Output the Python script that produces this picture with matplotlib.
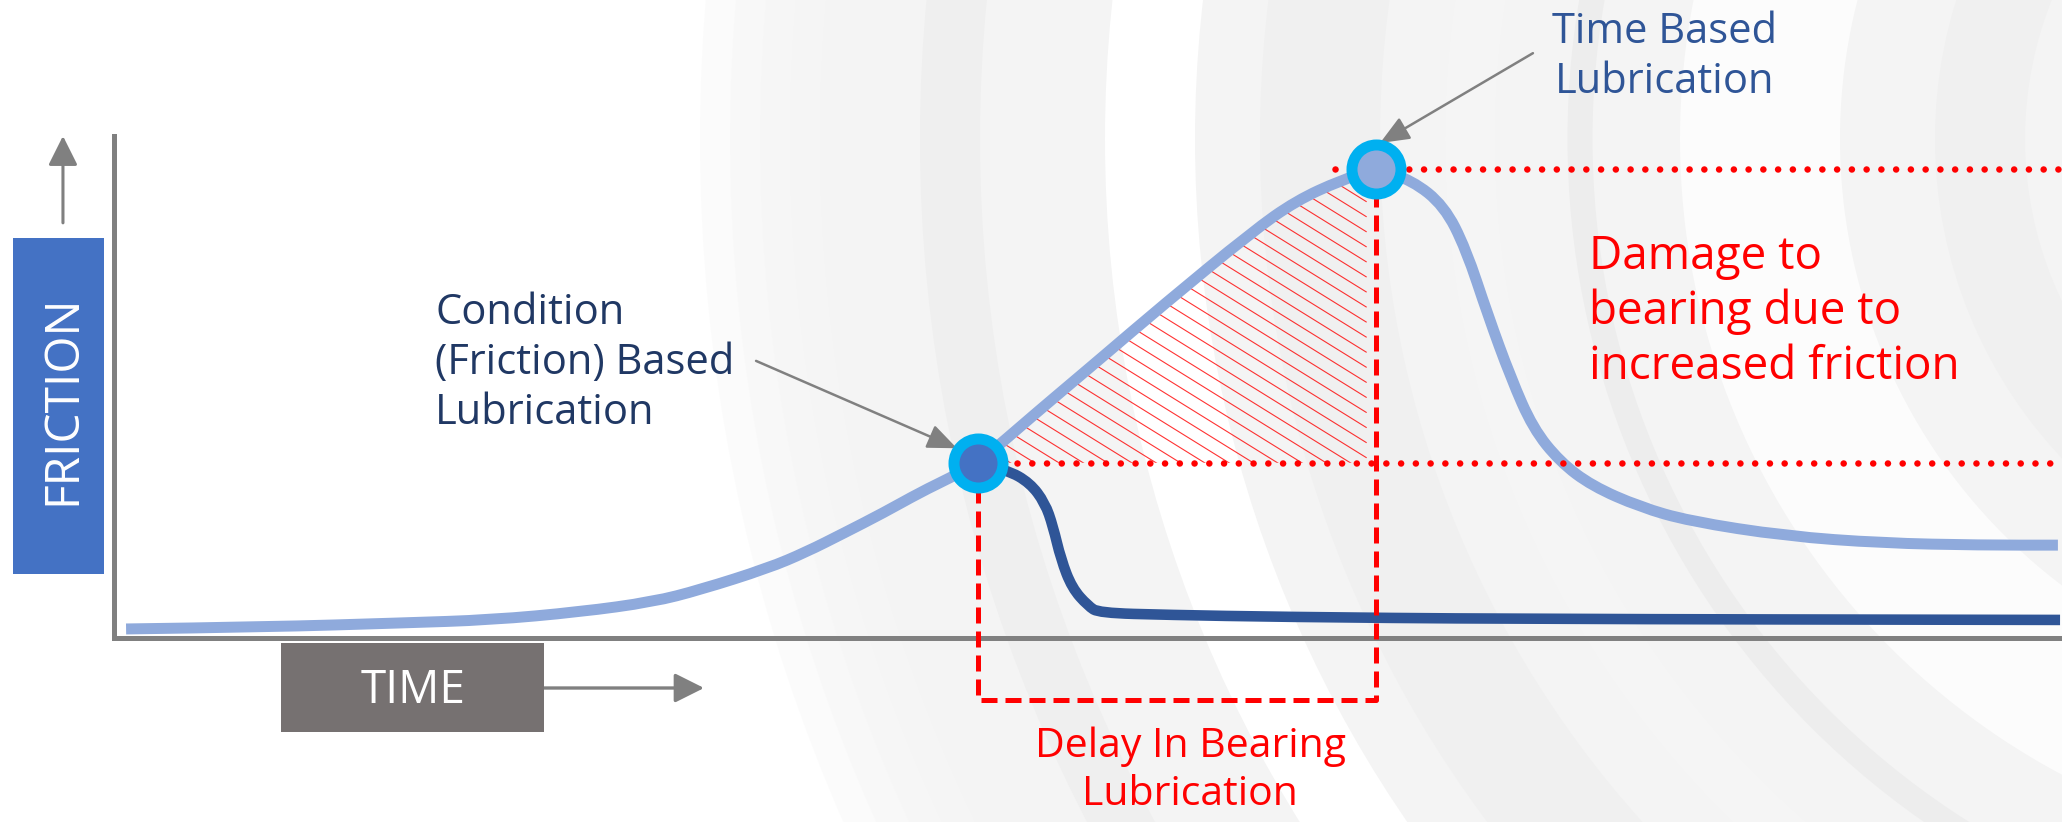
import numpy as np
import matplotlib.pyplot as plt
from matplotlib.path import Path
from matplotlib.patches import PathPatch, Polygon, Rectangle, Circle

plt.rcParams['font.family'] = ['Open Sans', 'DejaVu Sans']

# friction over time when the bearing is greased on a fixed schedule
sched_t = [0.062, 0.791, 1.478, 1.935, 2.392, 2.767, 3.008, 3.357, 3.552, 3.747,
           3.948, 4.143, 4.292, 4.435, 4.584, 4.733, 4.928, 5.062, 5.385, 5.842,
           6.068, 6.299, 6.478, 6.663, 6.828, 6.940, 7.053, 7.171, 7.284, 7.423,
           7.587, 7.834, 8.085, 8.583, 9.081, 9.579, 9.979]
sched_f = [0.18, 0.22, 0.30, 0.36, 0.52, 0.72, 0.96, 1.39, 1.71, 2.09,
           2.49, 2.91, 3.19, 3.49, 3.98, 4.48, 5.12, 5.56, 6.63, 8.09,
           8.71, 9.12, 9.34, 9.12, 8.61, 7.75, 6.43, 5.18, 4.18, 3.51,
           3.03, 2.61, 2.33, 2.03, 1.89, 1.85, 1.85]

# friction when grease is added as soon as friction starts to climb
cond_t = [4.435, 4.584, 4.702, 4.779, 4.820, 4.861, 4.918, 5.000, 5.056, 5.411,
          6.001, 7.115, 9.99]
cond_f = [3.49, 3.35, 3.09, 2.69, 2.23, 1.57, 0.996, 0.64, 0.50, 0.46,
          0.42, 0.38, 0.36]

cond_idx = 13                       # point where condition based lubrication kicks in
peak_idx = int(np.argmax(sched_f))  # point where the scheduled lubrication happens

label_time_based = "Time Based\nLubrication"
label_condition = "Condition\n(Friction) Based\nLubrication"
label_damage = "Damage to\nbearing due to\nincreased friction"
label_delay = "Delay In Bearing\nLubrication"
label_y = "FRICTION"
label_x = "TIME"

LIGHT = '#8FAADC'
DARK = '#2F5597'
CYAN = '#00B0F0'
RED = '#FF0000'
GREY = '#808080'


def smooth(x, y):
    # quadratic bezier through the midpoints, keeps the curve soft
    p = np.column_stack([x, y])
    verts, codes = [p[0]], [Path.MOVETO]
    for i in range(1, len(p) - 1):
        verts += [p[i], (p[i] + p[i + 1]) / 2]
        codes += [Path.CURVE3, Path.CURVE3]
    verts.append(p[-1])
    codes.append(Path.LINETO)
    return Path(verts, codes)


fig = plt.figure(figsize=(20.62, 8.22), dpi=100)

# faint bearing ring in the background
bg = fig.add_axes([0, 0, 1, 1])
bg.set_xlim(0, 2062)
bg.set_ylim(822, 0)
bg.axis('off')
cx, cy = 2400, 139
for r in [1700, 1670, 1640, 1610, 1580]:
    bg.add_patch(Circle((cx, cy), r, facecolor='#f4f4f4', edgecolor='none', alpha=0.3))
for r, w, c in [(1450, 60, '#efefef'), (1250, 90, '#ffffff'), (1080, 120, '#f0f0f0'),
                (930, 50, '#f5f5f5'), (820, 25, '#ededed'), (640, 160, '#fcfcfc'),
                (420, 90, '#f0f0f0'), (300, 40, '#f3f3f3')]:
    bg.add_patch(Circle((cx, cy), r, facecolor='none', edgecolor=c, lw=w * 0.72))

ax = fig.add_axes([114 / 2062, 1 - 638 / 822, 1 - 114 / 2062, (638 - 136) / 822])
ax.set_xlim(0, 10)
ax.set_ylim(0, 10)
ax.patch.set_alpha(0)
ax.set_xticks([])
ax.set_yticks([])
for s in ['top', 'right']:
    ax.spines[s].set_visible(False)
for s in ['left', 'bottom']:
    ax.spines[s].set_color(GREY)
    ax.spines[s].set_linewidth(3.6)

t0, f0 = sched_t[cond_idx], sched_f[cond_idx]
t1, f1 = sched_t[peak_idx], sched_f[peak_idx]
box_bottom = -1.235

# hatched area between the condition point and the scheduled lubrication
clip = Polygon(list(zip(sched_t[cond_idx:peak_idx + 1], sched_f[cond_idx:peak_idx + 1]))
               + [(t1, f0)], closed=True, facecolor='none', edgecolor='none')
ax.add_patch(clip)
slope = -0.62 * 194.8 / 50.2
hx = np.array([t0, t1 - 0.05])
for c in np.arange(f0 + 0.1, f1 - slope * (t1 - t0), 0.3):
    ln, = ax.plot(hx, c + slope * (hx - t0), color=RED, lw=0.8, alpha=0.8, zorder=2)
    ln.set_clip_path(clip)

ax.add_patch(PathPatch(smooth(sched_t, sched_f), fill=False, edgecolor=LIGHT, lw=7.9,
                       capstyle='butt', joinstyle='round', zorder=3, clip_on=False))
ax.add_patch(PathPatch(smooth(cond_t, cond_f), fill=False, edgecolor=DARK, lw=7.6,
                       capstyle='butt', joinstyle='round', zorder=3, clip_on=False))

# dotted friction levels
dot = dict(color=RED, lw=4.7, dashes=(0.01, 2.25), dash_capstyle='round', zorder=4,
           clip_on=False)
ax.plot([t0 + 0.2, 10], [f0, f0], **dot)
ax.plot([t1 - 0.21, 10], [f1, f1], **dot)

# dashed bracket for the delay
ax.plot([t0, t0, t1, t1], [f0, box_bottom, box_bottom, f1], color=RED, lw=3.6,
        dashes=(3.2, 1.6), zorder=4, clip_on=False)

for i, inner in [(cond_idx, '#4472C4'), (peak_idx, LIGHT)]:
    ax.plot(sched_t[i], sched_f[i], 'o', ms=40, mfc='#9a9a9a', mec='none', alpha=0.15,
            zorder=5, clip_on=False)
    ax.plot(sched_t[i], sched_f[i], 'o', ms=35.3, mfc=inner, mec=CYAN, mew=7.9,
            zorder=6, clip_on=False)

arrow = dict(color=GREY, shrinkA=0, shrinkB=0, mutation_scale=10)
ax.annotate('', xy=(4.327, 3.78), xytext=(3.296, 5.52), annotation_clip=False,
            arrowprops=dict(arrowstyle='-|>,head_length=1.8,head_width=0.75', lw=1.8, **arrow))
ax.annotate('', xy=(6.499, 9.86), xytext=(7.284, 11.65), annotation_clip=False,
            arrowprops=dict(arrowstyle='-|>,head_length=1.8,head_width=0.75', lw=1.8, **arrow))
ax.annotate('', xy=(-0.262, 10.0), xytext=(-0.262, 8.27), annotation_clip=False,
            arrowprops=dict(arrowstyle='-|>,head_length=1.8,head_width=0.9', lw=2.2, **arrow))
ax.annotate('', xy=(3.029, -0.996), xytext=(2.125, -0.996), annotation_clip=False,
            arrowprops=dict(arrowstyle='-|>,head_length=1.8,head_width=0.9', lw=2.4, **arrow))

# axis label boxes
ax.add_patch(Rectangle((-0.518, 1.275), 0.467, 6.695, facecolor='#4472C4',
                       edgecolor='none', clip_on=False, zorder=5))
ax.text(-0.265, 4.74, label_y, rotation=90, color='white', fontsize=34.5,
        ha='center', va='center', zorder=6)
ax.add_patch(Rectangle((0.857, -1.873), 1.35, 1.773, facecolor='#767171',
                       edgecolor='none', clip_on=False, zorder=5))
ax.text(1.535, -1.05, label_x, color='white', fontsize=33, ha='center', va='center',
        zorder=6)

ax.text(7.962, 11.57, label_time_based, color=DARK, fontsize=30, ha='center',
        va='center', linespacing=1.25, multialignment='center')
ax.text(1.648, 5.47, label_condition, color='#203864', fontsize=30, ha='left',
        va='center', linespacing=1.25)
ax.text(7.572, 6.50, label_damage, color=RED, fontsize=33, ha='left', va='center',
        linespacing=1.25)
ax.text(5.524, -2.65, label_delay, color=RED, fontsize=29.5, ha='center', va='center',
        linespacing=1.25, multialignment='center')

fig.savefig('out.png', dpi=100)
